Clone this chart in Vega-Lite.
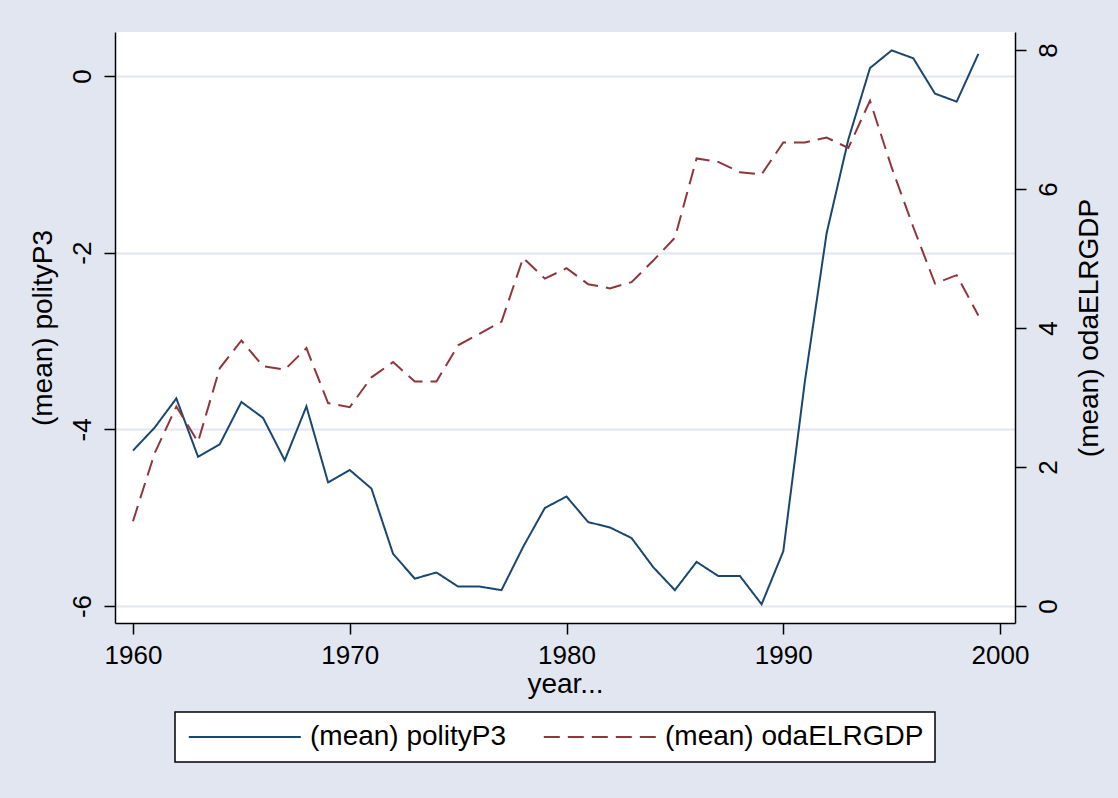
{
  "$schema": "https://vega.github.io/schema/vega-lite/v6.json",
  "width": 900,
  "height": 591,
  "autosize": {"type": "none"},
  "padding": {"left": 115, "top": 32, "right": 103, "bottom": 175},
  "background": "#E1E6F0",
  "config": {
    "view": {"stroke": null, "fill": "white"},
    "font": "Liberation Sans",
    "axis": {
      "domainColor": "black",
      "domainWidth": 1.5,
      "tickColor": "black",
      "tickWidth": 1.5,
      "tickSize": 11,
      "labelColor": "black",
      "labelFontSize": 26,
      "labelFont": "Liberation Sans",
      "titleFont": "Liberation Sans",
      "titleFontSize": 28,
      "titleFontWeight": "normal",
      "titleColor": "black"
    }
  },
  "data": {
    "values": [
      {"year": 1960, "series": "(mean) polityP3", "value": -4.24},
      {"year": 1961, "series": "(mean) polityP3", "value": -3.98},
      {"year": 1962, "series": "(mean) polityP3", "value": -3.65},
      {"year": 1963, "series": "(mean) polityP3", "value": -4.31},
      {"year": 1964, "series": "(mean) polityP3", "value": -4.17},
      {"year": 1965, "series": "(mean) polityP3", "value": -3.69},
      {"year": 1966, "series": "(mean) polityP3", "value": -3.87},
      {"year": 1967, "series": "(mean) polityP3", "value": -4.35},
      {"year": 1968, "series": "(mean) polityP3", "value": -3.74},
      {"year": 1969, "series": "(mean) polityP3", "value": -4.60},
      {"year": 1970, "series": "(mean) polityP3", "value": -4.46},
      {"year": 1971, "series": "(mean) polityP3", "value": -4.67},
      {"year": 1972, "series": "(mean) polityP3", "value": -5.41},
      {"year": 1973, "series": "(mean) polityP3", "value": -5.69},
      {"year": 1974, "series": "(mean) polityP3", "value": -5.62},
      {"year": 1975, "series": "(mean) polityP3", "value": -5.78},
      {"year": 1976, "series": "(mean) polityP3", "value": -5.78},
      {"year": 1977, "series": "(mean) polityP3", "value": -5.82},
      {"year": 1978, "series": "(mean) polityP3", "value": -5.33},
      {"year": 1979, "series": "(mean) polityP3", "value": -4.89},
      {"year": 1980, "series": "(mean) polityP3", "value": -4.76},
      {"year": 1981, "series": "(mean) polityP3", "value": -5.05},
      {"year": 1982, "series": "(mean) polityP3", "value": -5.11},
      {"year": 1983, "series": "(mean) polityP3", "value": -5.23},
      {"year": 1984, "series": "(mean) polityP3", "value": -5.56},
      {"year": 1985, "series": "(mean) polityP3", "value": -5.82},
      {"year": 1986, "series": "(mean) polityP3", "value": -5.50},
      {"year": 1987, "series": "(mean) polityP3", "value": -5.66},
      {"year": 1988, "series": "(mean) polityP3", "value": -5.66},
      {"year": 1989, "series": "(mean) polityP3", "value": -5.98},
      {"year": 1990, "series": "(mean) polityP3", "value": -5.38},
      {"year": 1991, "series": "(mean) polityP3", "value": -3.45},
      {"year": 1992, "series": "(mean) polityP3", "value": -1.78},
      {"year": 1993, "series": "(mean) polityP3", "value": -0.72},
      {"year": 1994, "series": "(mean) polityP3", "value": 0.09},
      {"year": 1995, "series": "(mean) polityP3", "value": 0.29},
      {"year": 1996, "series": "(mean) polityP3", "value": 0.20},
      {"year": 1997, "series": "(mean) polityP3", "value": -0.20},
      {"year": 1998, "series": "(mean) polityP3", "value": -0.29},
      {"year": 1999, "series": "(mean) polityP3", "value": 0.25},
      {"year": 1960, "series": "(mean) odaELRGDP", "value": 1.22},
      {"year": 1961, "series": "(mean) odaELRGDP", "value": 2.2},
      {"year": 1962, "series": "(mean) odaELRGDP", "value": 2.87},
      {"year": 1963, "series": "(mean) odaELRGDP", "value": 2.36},
      {"year": 1964, "series": "(mean) odaELRGDP", "value": 3.42},
      {"year": 1965, "series": "(mean) odaELRGDP", "value": 3.82},
      {"year": 1966, "series": "(mean) odaELRGDP", "value": 3.45},
      {"year": 1967, "series": "(mean) odaELRGDP", "value": 3.40},
      {"year": 1968, "series": "(mean) odaELRGDP", "value": 3.71},
      {"year": 1969, "series": "(mean) odaELRGDP", "value": 2.92},
      {"year": 1970, "series": "(mean) odaELRGDP", "value": 2.86},
      {"year": 1971, "series": "(mean) odaELRGDP", "value": 3.29},
      {"year": 1972, "series": "(mean) odaELRGDP", "value": 3.51},
      {"year": 1973, "series": "(mean) odaELRGDP", "value": 3.23},
      {"year": 1974, "series": "(mean) odaELRGDP", "value": 3.23},
      {"year": 1975, "series": "(mean) odaELRGDP", "value": 3.75},
      {"year": 1976, "series": "(mean) odaELRGDP", "value": 3.92},
      {"year": 1977, "series": "(mean) odaELRGDP", "value": 4.09},
      {"year": 1978, "series": "(mean) odaELRGDP", "value": 5.01},
      {"year": 1979, "series": "(mean) odaELRGDP", "value": 4.71},
      {"year": 1980, "series": "(mean) odaELRGDP", "value": 4.86},
      {"year": 1981, "series": "(mean) odaELRGDP", "value": 4.63},
      {"year": 1982, "series": "(mean) odaELRGDP", "value": 4.57},
      {"year": 1983, "series": "(mean) odaELRGDP", "value": 4.66},
      {"year": 1984, "series": "(mean) odaELRGDP", "value": 4.97},
      {"year": 1985, "series": "(mean) odaELRGDP", "value": 5.30},
      {"year": 1986, "series": "(mean) odaELRGDP", "value": 6.44},
      {"year": 1987, "series": "(mean) odaELRGDP", "value": 6.39},
      {"year": 1988, "series": "(mean) odaELRGDP", "value": 6.24},
      {"year": 1989, "series": "(mean) odaELRGDP", "value": 6.21},
      {"year": 1990, "series": "(mean) odaELRGDP", "value": 6.67},
      {"year": 1991, "series": "(mean) odaELRGDP", "value": 6.67},
      {"year": 1992, "series": "(mean) odaELRGDP", "value": 6.74},
      {"year": 1993, "series": "(mean) odaELRGDP", "value": 6.59},
      {"year": 1994, "series": "(mean) odaELRGDP", "value": 7.27},
      {"year": 1995, "series": "(mean) odaELRGDP", "value": 6.31},
      {"year": 1996, "series": "(mean) odaELRGDP", "value": 5.45},
      {"year": 1997, "series": "(mean) odaELRGDP", "value": 4.64},
      {"year": 1998, "series": "(mean) odaELRGDP", "value": 4.76},
      {"year": 1999, "series": "(mean) odaELRGDP", "value": 4.18}
    ]
  },
  "encoding": {
    "x": {
      "field": "year",
      "type": "quantitative",
      "scale": {"domain": [1959.17, 2000.69], "nice": false, "zero": false},
      "axis": {
        "title": "year...",
        "values": [1960, 1970, 1980, 1990, 2000],
        "format": "d",
        "grid": false,
        "labelPadding": 8,
        "titlePadding": 2
      }
    },
    "color": {
      "field": "series",
      "type": "nominal",
      "scale": {"domain": ["(mean) polityP3", "(mean) odaELRGDP"], "range": ["#1A476F", "#90353B"]},
      "legend": {
        "title": null,
        "orient": "none",
        "legendX": 60,
        "legendY": 680,
        "direction": "horizontal",
        "symbolType": "M-1,0H9",
        "symbolSize": 502,
        "symbolStrokeWidth": 2,
        "labelFontSize": 28,
        "labelFont": "Liberation Sans",
        "labelColor": "black",
        "labelLimit": 500,
        "labelOffset": 96,
        "columnPadding": 32,
        "padding": 11,
        "strokeColor": "black",
        "fillColor": "white",
        "encode": {"legend": {"update": {"strokeWidth": {"value": 1.5}}}}
      }
    },
    "strokeDash": {
      "field": "series",
      "type": "nominal",
      "scale": {"domain": ["(mean) polityP3", "(mean) odaELRGDP"], "range": [[1, 0], [16, 8]]},
      "legend": null
    }
  },
  "layer": [
    {
      "transform": [{"filter": "datum.series === '(mean) polityP3'"}],
      "mark": {"type": "line", "strokeWidth": 2},
      "encoding": {
        "y": {
          "field": "value",
          "type": "quantitative",
          "scale": {"domain": [-6.192, 0.498], "nice": false, "zero": false},
          "axis": {
            "title": "(mean) polityP3",
            "orient": "left",
            "values": [-6, -4, -2, 0],
            "labelExpr": "datum.value < 0 ? '-' + abs(datum.value) : '' + datum.value",
            "labelAngle": -90,
            "labelAlign": "center",
            "labelBaseline": "bottom",
            "labelPadding": 9,
            "titlePadding": 12,
            "grid": true,
            "gridColor": "#E1E6F0",
            "gridWidth": 2
          }
        }
      }
    },
    {
      "transform": [{"filter": "datum.series === '(mean) odaELRGDP'"}],
      "mark": {"type": "line", "strokeWidth": 2},
      "encoding": {
        "y": {
          "field": "value",
          "type": "quantitative",
          "scale": {"domain": [-0.245, 8.259], "nice": false, "zero": false},
          "axis": {
            "title": "(mean) odaELRGDP",
            "orient": "right",
            "values": [0, 2, 4, 6, 8],
            "labelAngle": -90,
            "labelAlign": "center",
            "labelBaseline": "top",
            "labelPadding": 9,
            "titleAngle": -90,
            "titleBaseline": "top",
            "titlePadding": 14,
            "grid": false
          }
        }
      }
    }
  ],
  "resolve": {"scale": {"y": "independent"}}
}
